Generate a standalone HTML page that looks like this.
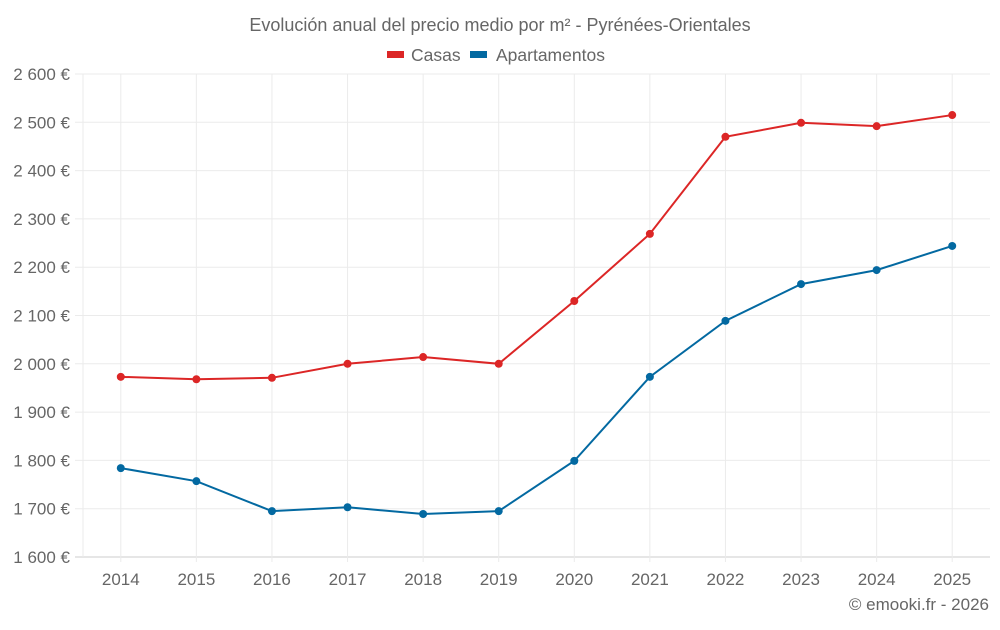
<!DOCTYPE html>
<html><head><meta charset="utf-8"><style>
body{margin:0;background:#fff;font-family:"Liberation Sans",sans-serif;}
svg text{font-family:"Liberation Sans",sans-serif;fill:#666;}
</style></head><body>
<svg id="chart" width="1000" height="625" xmlns="http://www.w3.org/2000/svg">
<text x="500" y="31" text-anchor="middle" font-size="18">Evolución anual del precio medio por m² - Pyrénées-Orientales</text>
<g><rect x="387" y="51" width="17" height="7" fill="#dc2626"/><text x="411" y="61" font-size="17.5">Casas</text></g>
<g><rect x="470" y="51" width="17" height="7" fill="#0369a1"/><text x="496" y="61" font-size="17.5">Apartamentos</text></g>
<g id="grid"></g><g id="marks"></g>
<text x="989" y="610" text-anchor="end" font-size="17">© emooki.fr - 2026</text>
</svg>
<script>
const years=["2014","2015","2016","2017","2018","2019","2020","2021","2022","2023","2024","2025"];
const casas=[1973,1968,1971,2000,2014,2000,2130,2269,2470,2499,2492,2515];
const apartamentos=[1784,1757,1695,1703,1689,1695,1799,1973,2089,2165,2194,2244];
const yTicks=[1600,1700,1800,1900,2000,2100,2200,2300,2400,2500,2600];
const NS="http://www.w3.org/2000/svg";
const x0=83,x1=990,yTop=74,yBot=557,yMin=1600,yMax=2600;
const bw=(x1-x0)/years.length;
const xs=i=>x0+bw*(i+0.5);
const ys=v=>yBot-(v-yMin)/(yMax-yMin)*(yBot-yTop);
function mk(t,a,p){const e=document.createElementNS(NS,t);for(const k in a)e.setAttribute(k,a[k]);p.appendChild(e);return e;}
const grid=document.getElementById('grid'),marks=document.getElementById('marks');
yTicks.forEach(v=>{
 const l=mk('line',{x1:75,x2:x1,y1:ys(v),y2:ys(v),stroke:v===yMin?'#ccc':'#ebebeb'},grid);
 
 
 const t=mk('text',{x:70,y:ys(v)+6,'text-anchor':'end','font-size':'17'},grid);
 t.textContent=String(v).replace(/(\d)(\d{3})$/,'$1 $2')+' €';
 
 
});
const ax=mk('line',{x1:x0,x2:x0,y1:yTop,y2:yBot,stroke:'#ebebeb'},grid);


years.forEach((y,i)=>{
 const l=mk('line',{x1:xs(i),x2:xs(i),y1:yTop,y2:yBot+5,stroke:'#ebebeb'},grid);
 
 
 const t=mk('text',{x:xs(i),y:585,'text-anchor':'middle','font-size':'17'},grid);
 t.textContent=y;
 
 
});
[[casas,'#dc2626','casas'],[apartamentos,'#0369a1','apartamentos']].forEach(([d,c,n])=>{
 const p=mk('polyline',{points:d.map((v,i)=>xs(i)+','+ys(v)).join(' '),fill:'none',stroke:c,'stroke-width':2},marks);
 
 
 d.forEach((v,i)=>{
  const ci=mk('circle',{cx:xs(i),cy:ys(v),r:4,fill:c},marks);
  
  
 });
});
</script>
</body></html>
